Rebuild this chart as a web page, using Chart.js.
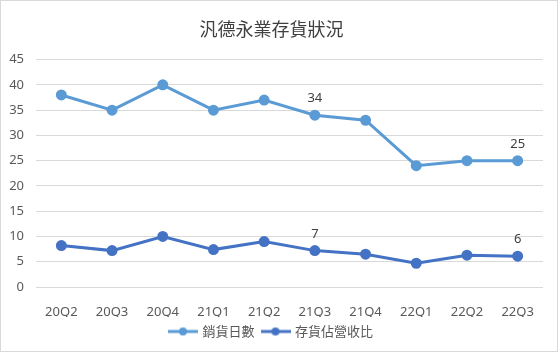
<!DOCTYPE html>
<html>
<head>
<meta charset="utf-8">
<script src="https://cdn.jsdelivr.net/npm/chart.js@4"></script>
<style>
  html, body { margin: 0; padding: 0; background: #fff; }
  #wrap { width: 558px; height: 352px; position: relative; }
</style>
</head>
<body>
<div id="wrap"><canvas id="inventoryChart" width="558" height="352"></canvas></div>
<script>
// Data
const quarters = ['20Q2', '20Q3', '20Q4', '21Q1', '21Q2', '21Q3', '21Q4', '22Q1', '22Q2', '22Q3'];
const salesDays = [38, 35, 40, 35, 37, 34, 33, 24, 25, 25];
const warningRatio = [8.2, 7.2, 10, 7.4, 9, 7.2, 6.5, 4.7, 6.3, 6.1];
const labelAt = ['21Q3', '22Q3'];
const yTicks = [0, 5, 10, 15, 20, 25, 30, 35, 40, 45];

const fontFamily = '"Noto Sans", "Noto Sans CJK TC", sans-serif';
const textColor = '#595959';

// Legend marker: line with a dot in the middle
function legendMarker(color) {
    const c = document.createElement('canvas');
    c.width = 30;
    c.height = 10;
    const g = c.getContext('2d');
    g.strokeStyle = color;
    g.lineWidth = 3;
    g.beginPath();
    g.moveTo(0, 5);
    g.lineTo(30, 5);
    g.stroke();
    g.fillStyle = color;
    g.beginPath();
    g.arc(15, 5, 4, 0, Math.PI * 2);
    g.fill();
    return c;
}

// Value labels above selected points
const pointLabels = {
    id: 'pointLabels',
    afterDatasetsDraw(chart) {
        const ctx = chart.ctx;
        ctx.save();
        ctx.font = '13px ' + fontFamily;
        ctx.fillStyle = '#404040';
        ctx.textAlign = 'center';
        ctx.textBaseline = 'bottom';
        chart.data.datasets.forEach((ds, i) => {
            const meta = chart.getDatasetMeta(i);
            meta.data.forEach((pt, j) => {
                if (labelAt.includes(quarters[j])) {
                    ctx.fillText(Math.round(ds.data[j]), pt.x, pt.y - 10);
                }
            });
        });
        ctx.restore();
    }
};

// Chart area border
const outerBorder = {
    id: 'outerBorder',
    beforeDraw(chart) {
        const ctx = chart.ctx;
        ctx.save();
        ctx.fillStyle = '#fff';
        ctx.fillRect(0, 0, chart.width, chart.height);
        ctx.strokeStyle = '#d9d9d9';
        ctx.lineWidth = 1;
        ctx.strokeRect(0.5, 0.5, chart.width - 1, chart.height - 1);
        ctx.restore();
    }
};

new Chart(document.getElementById('inventoryChart').getContext('2d'), {
    type: 'line',
    data: {
        labels: quarters,
        datasets: [
            {
                label: '銷貨日數',
                data: salesDays,
                borderColor: '#5b9bd5',
                backgroundColor: '#5b9bd5',
                borderWidth: 3,
                pointRadius: 4,
                pointHoverRadius: 4,
                tension: 0
            },
            {
                label: '存貨佔營收比',
                data: warningRatio,
                borderColor: '#4472c4',
                backgroundColor: '#4472c4',
                borderWidth: 3,
                pointRadius: 4,
                pointHoverRadius: 4,
                tension: 0
            }
        ]
    },
    options: {
        responsive: false,
        animation: false,
        devicePixelRatio: 1,
        layout: {
            padding: { left: 0, right: 15, top: 10, bottom: 4 }
        },
        plugins: {
            title: {
                display: true,
                text: '汎德永業存貨狀況',
                color: '#404040',
                font: { family: '"Noto Sans CJK TC", sans-serif', size: 18, weight: 'normal' },
                padding: { top: 8, bottom: 20 }
            },
            legend: {
                position: 'bottom',
                labels: {
                    usePointStyle: true,
                    pointStyleWidth: 26,
                    color: textColor,
                    font: { family: '"Noto Sans CJK TC", sans-serif', size: 13 },
                    padding: 8,
                    generateLabels(chart) {
                        return chart.data.datasets.map((ds, i) => ({
                            text: ds.label,
                            pointStyle: legendMarker(ds.borderColor),
                            fontColor: textColor,
                            strokeStyle: ds.borderColor,
                            fillStyle: ds.borderColor,
                            lineWidth: 0,
                            hidden: false,
                            datasetIndex: i
                        }));
                    }
                }
            },
            tooltip: { enabled: false }
        },
        scales: {
            x: {
                offset: true,
                afterFit(axis) {
                    axis.height = 30;
                },
                grid: { display: false },
                border: { display: false },
                ticks: {
                    color: textColor,
                    font: { family: fontFamily, size: 13 },
                    padding: 9
                }
            },
            y: {
                min: 0,
                max: 45,
                afterBuildTicks(axis) {
                    axis.ticks = yTicks.map(v => ({ value: v }));
                },
                afterFit(axis) {
                    axis.width = 36;
                },
                grid: { color: '#d9d9d9', lineWidth: 1, drawTicks: false },
                border: { display: false },
                ticks: {
                    color: textColor,
                    font: { family: fontFamily, size: 13 },
                    padding: 12
                }
            }
        }
    },
    plugins: [pointLabels, outerBorder]
});
</script>
</body>
</html>
